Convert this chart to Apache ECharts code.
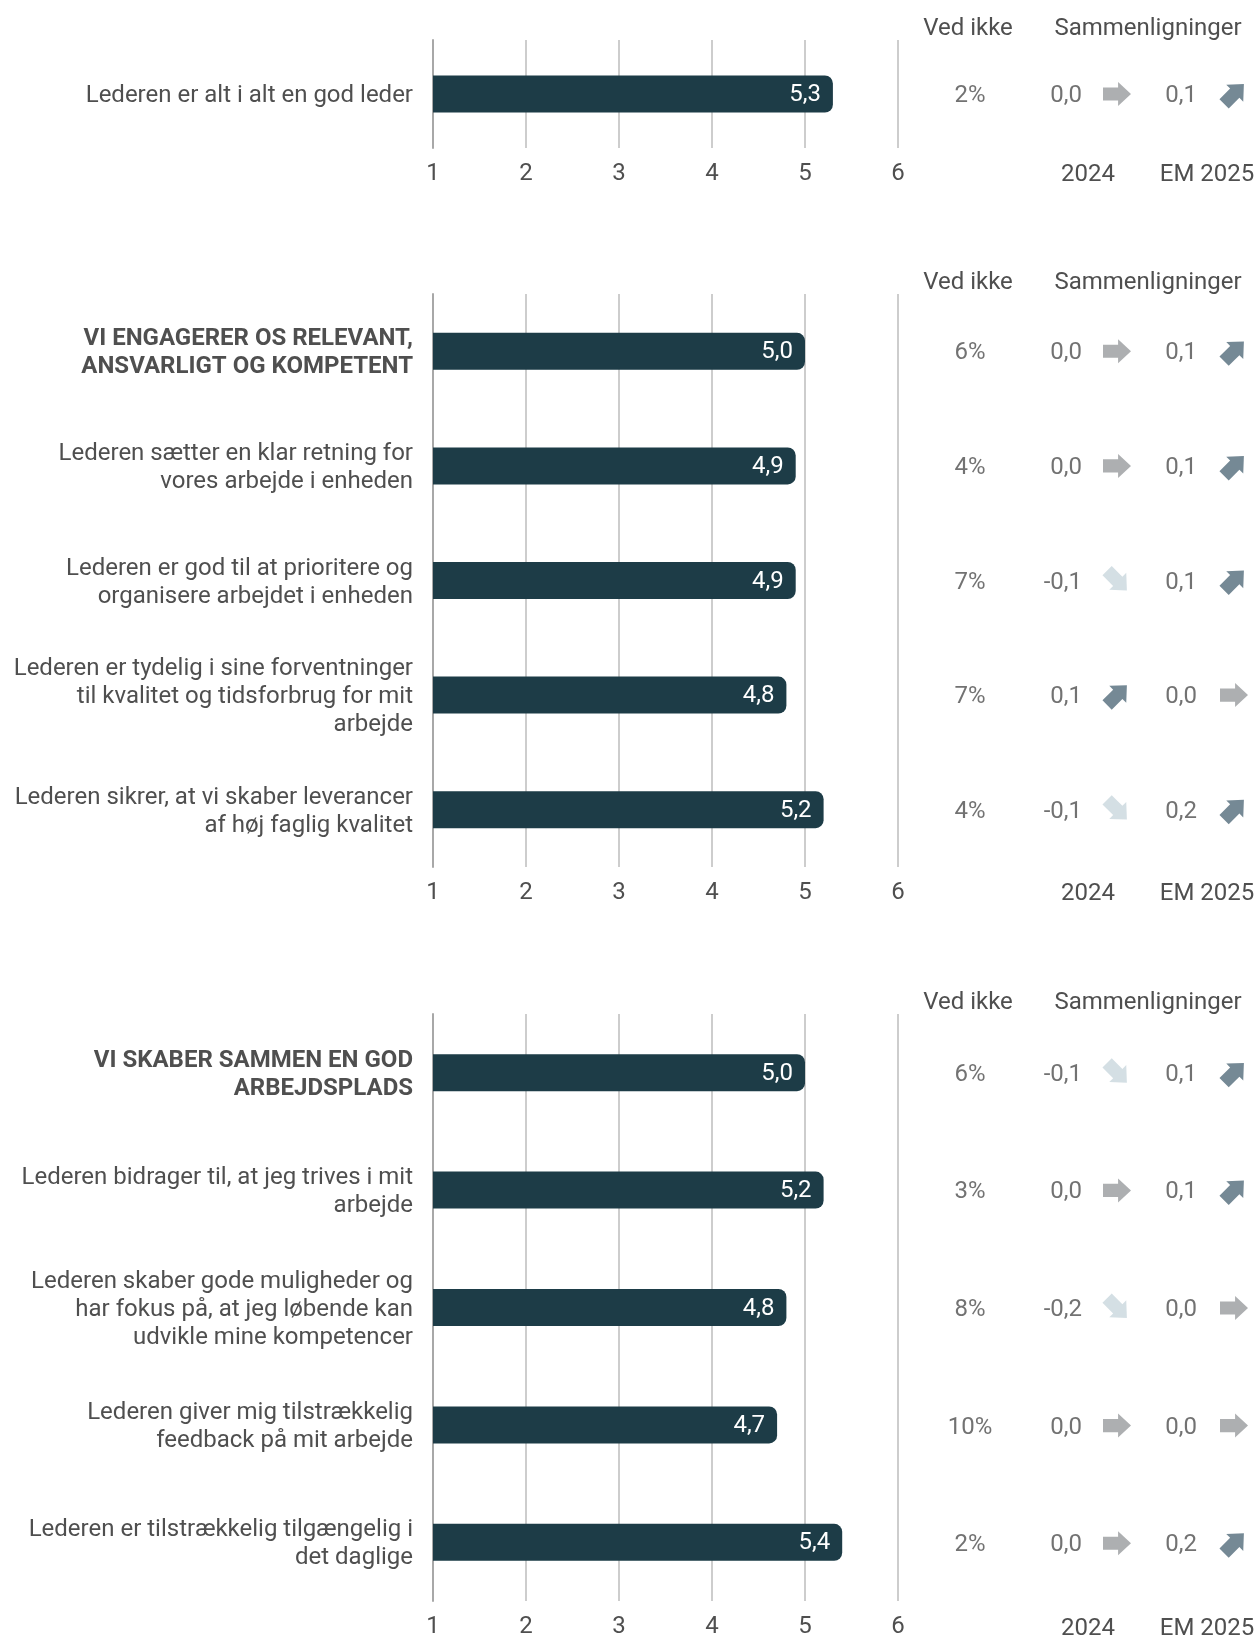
<!DOCTYPE html>
<html>
<head>
<meta charset="utf-8">
<script src="https://cdn.jsdelivr.net/npm/echarts@6/dist/echarts.min.js"></script>
<style>
  html, body { margin: 0; padding: 0; background: #fff; }
  #chart { width: 1256px; height: 1639px; }
</style>
</head>
<body>
<div id="chart"></div>
<script>
// --- data: panel 1
const labels1 = ['Lederen er alt i alt en god leder']
const scores1 = [5.3]
const vedIkke1 = [2]
const diff2024_1 = [0.0]
const diffEM_1 = [0.1]

// --- data: panel 2
const labels2 = [
  'VI ENGAGERER OS RELEVANT,\nANSVARLIGT OG KOMPETENT',
  'Lederen sætter en klar retning for\nvores arbejde i enheden',
  'Lederen er god til at prioritere og\norganisere arbejdet i enheden',
  'Lederen er tydelig i sine forventninger\ntil kvalitet og tidsforbrug for mit\narbejde',
  'Lederen sikrer, at vi skaber leverancer\naf høj faglig kvalitet'
]
const scores2 = [5.0, 4.9, 4.9, 4.8, 5.2]
const vedIkke2 = [6, 4, 7, 7, 4]
const diff2024_2 = [0.0, 0.0, -0.1, 0.1, -0.1]
const diffEM_2 = [0.1, 0.1, 0.1, 0.0, 0.2]

// --- data: panel 3
const labels3 = [
  'VI SKABER SAMMEN EN GOD\nARBEJDSPLADS',
  'Lederen bidrager til, at jeg trives i mit\narbejde',
  'Lederen skaber gode muligheder og\nhar fokus på, at jeg løbende kan\nudvikle mine kompetencer',
  'Lederen giver mig tilstrækkelig\nfeedback på mit arbejde',
  'Lederen er tilstrækkelig tilgængelig i\ndet daglige'
]
const scores3 = [5.0, 5.2, 4.8, 4.7, 5.4]
const vedIkke3 = [6, 3, 8, 10, 2]
const diff2024_3 = [-0.1, 0.0, -0.2, 0.0, 0.0]
const diffEM_3 = [0.1, 0.1, 0.0, 0.0, 0.2]

const scaleTicks = [1, 2, 3, 4, 5, 6]
const headerVed = 'Ved ikke'
const headerCmp = 'Sammenligninger'
const footer2024 = '2024'
const footerEM = 'EM 2025'

// layout
const panels = [
  { top: 40, height: 108, labels: labels1, scores: scores1, ved: vedIkke1, d24: diff2024_1, dEM: diffEM_1, boldFirst: false },
  { top: 294, height: 573, labels: labels2, scores: scores2, ved: vedIkke2, d24: diff2024_2, dEM: diffEM_2, boldFirst: true },
  { top: 1014, height: 588, labels: labels3, scores: scores3, ved: vedIkke3, d24: diff2024_3, dEM: diffEM_3, boldFirst: true }
]
const plotLeft = 433
const plotRight = 898
const tableWidth = 1256 - plotRight
// column positions inside the table grid
const colVed = 72, colV24 = 184, colA24 = 219, colVEM = 299, colAEM = 336

const textColor = '#4f4f4f'
const font = 'Roboto'
const fs = 24
const arrowPath = 'path://M0,5L14,5L14,0L26,11L14,22L14,17L0,17Z'

const fmt = v => v.toFixed(1).replace('.', ',')
const arrowRot = v => v > 0 ? 45 : (v < 0 ? -45 : 0)
const arrowCol = v => v > 0 ? '#536c7b' : (v < 0 ? '#c9d7dd' : '#989b9d')

const grid = [], xAxis = [], yAxis = [], series = [], graphic = []

panels.forEach((p, k) => {
  const g = k * 2
  grid.push({ left: plotLeft, width: plotRight - plotLeft, top: p.top, height: p.height })
  grid.push({ left: plotRight, width: tableWidth, top: p.top, height: p.height })

  xAxis.push({
    gridIndex: g, type: 'value', min: 1, max: 6, interval: 1,
    axisLine: { show: false }, axisTick: { show: false },
    splitLine: { show: true, lineStyle: { color: '#bcbcbc', width: 1.5 } },
    axisLabel: { color: textColor, fontFamily: font, fontSize: fs, margin: 14,
      formatter: v => scaleTicks.includes(v) ? String(v) : '' }
  })
  xAxis.push({ gridIndex: g + 1, type: 'value', min: 0, max: tableWidth, show: false })

  yAxis.push({
    gridIndex: g, type: 'category', inverse: true, data: p.labels,
    axisLine: { show: true, lineStyle: { color: '#a8a8a8', width: 2 } },
    axisTick: { show: false },
    axisLabel: {
      margin: 20, align: 'right', lineHeight: 28, padding: [4, 0, 0, 0],
      formatter: (val, i) => {
        const st = (p.boldFirst && i === 0) ? 'b' : 'n'
        return val.split('\n').map(l => '{' + st + '|' + l + '}').join('\n')
      },
      rich: {
        n: { color: textColor, fontFamily: font, fontSize: fs, lineHeight: 28 },
        b: { color: textColor, fontFamily: font, fontSize: fs, fontWeight: 'bold', lineHeight: 28 }
      }
    }
  })
  yAxis.push({ gridIndex: g + 1, type: 'category', inverse: true, data: p.labels, show: false })

  series.push({
    type: 'bar', xAxisIndex: g, yAxisIndex: g, data: p.scores, barWidth: 37,
    itemStyle: { color: '#1d3c47', borderRadius: [0, 8, 8, 0] },
    label: { show: true, position: 'insideRight', distance: 12, offset: [0, 1], color: '#ffffff',
      fontFamily: font, fontSize: fs, formatter: pr => fmt(pr.value) }
  })

  const textSeries = (col, vals, pos, f) => ({
    type: 'scatter', xAxisIndex: g + 1, yAxisIndex: g + 1, symbolSize: 0,
    data: vals.map((v, i) => [col, i, v]),
    label: { show: true, position: pos, distance: 0, offset: [0, 2], color: textColor,
      fontFamily: font, fontSize: fs, formatter: pr => f(pr.value[2]) }
  })
  series.push(textSeries(colVed, p.ved, 'inside', v => v + '%'))
  series.push(textSeries(colV24, p.d24, 'left', fmt))
  series.push(textSeries(colVEM, p.dEM, 'left', fmt))

  const arrowSeries = (col, vals) => ({
    type: 'scatter', xAxisIndex: g + 1, yAxisIndex: g + 1,
    symbol: arrowPath, symbolSize: [28, 24],
    data: vals.map((v, i) => ({ value: [col, i], symbolRotate: arrowRot(v), itemStyle: { color: arrowCol(v) } }))
  })
  series.push(arrowSeries(colA24, p.d24))
  series.push(arrowSeries(colAEM, p.dEM))

  const txt = (x, y, text) => ({
    type: 'text', x: x, y: y,
    style: { text: text, fill: textColor, font: fs + 'px Roboto', align: 'center', verticalAlign: 'middle' }
  })
  graphic.push(txt(968, p.top - 11, headerVed))
  graphic.push(txt(1148, p.top - 11, headerCmp))
  graphic.push(txt(1088, p.top + p.height + 27, footer2024))
  graphic.push(txt(1207, p.top + p.height + 27, footerEM))
})

const chart = echarts.init(document.getElementById('chart'))
chart.setOption({
  animation: false,
  backgroundColor: '#ffffff',
  grid, xAxis, yAxis, series, graphic
})
</script>
</body>
</html>
